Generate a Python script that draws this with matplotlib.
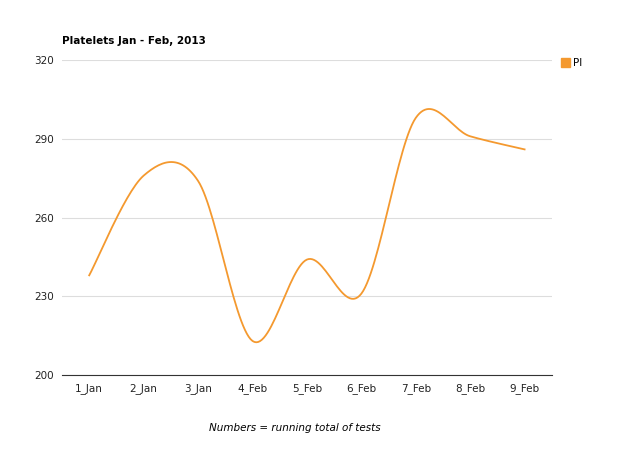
import numpy as np
import matplotlib.pyplot as plt

categories = ['1_Jan', '2_Jan', '3_Jan', '4_Feb', '5_Feb', '6_Feb', '7_Feb', '8_Feb', '9_Feb']
values = [238, 276, 274, 213, 244, 231, 298, 291, 286]
color = '#f4992f'


def smooth(x, y, n=30):
    # Catmull-Rom style smoothing through the points
    x = np.asarray(x, float)
    y = np.asarray(y, float)
    px = np.concatenate([[x[0]], x, [x[-1]]])
    py = np.concatenate([[y[0]], y, [y[-1]]])
    xs, ys = [], []
    for i in range(1, len(px) - 2):
        t = np.linspace(0, 1, n)
        for p, out in ((px, xs), (py, ys)):
            p0, p1, p2, p3 = p[i - 1], p[i], p[i + 1], p[i + 2]
            out.extend(0.5 * ((2 * p1) + (-p0 + p2) * t + (2 * p0 - 5 * p1 + 4 * p2 - p3) * t ** 2
                              + (-p0 + 3 * p1 - 3 * p2 + p3) * t ** 3))
    return xs, ys


fig = plt.figure(figsize=(6.2, 4.63), dpi=100)
ax = fig.add_axes([0.1, 0.19, 0.79, 0.68])
xs, ys = smooth(range(len(values)), values)
ax.plot(xs, ys, color=color, lw=1.3)

ax.set_xlim(-0.5, len(categories) - 0.5)
ax.set_ylim(200, 320)
ax.set_yticks([200, 230, 260, 290, 320])
ax.set_xticks(range(len(categories)))
ax.set_xticklabels(categories)
ax.tick_params(length=0, labelsize=7.5, colors='#222222', pad=6)
ax.grid(axis='y', color='#dddddd', lw=0.8)
ax.set_axisbelow(True)
for s in ['top', 'right', 'left']:
    ax.spines[s].set_visible(False)
ax.spines['bottom'].set_color('#333333')

fig.text(0.1, 0.905, 'Platelets Jan - Feb, 2013', fontsize=7.5, fontweight='bold')
fig.text(0.476, 0.07, 'Numbers = running total of tests', fontsize=7.5, style='italic', ha='center')
fig.patches.append(plt.Rectangle((0.905, 0.855), 0.014, 0.019, color=color, transform=fig.transFigure))
fig.text(0.925, 0.857, 'Pl', fontsize=7.5)

fig.savefig('out.png')
